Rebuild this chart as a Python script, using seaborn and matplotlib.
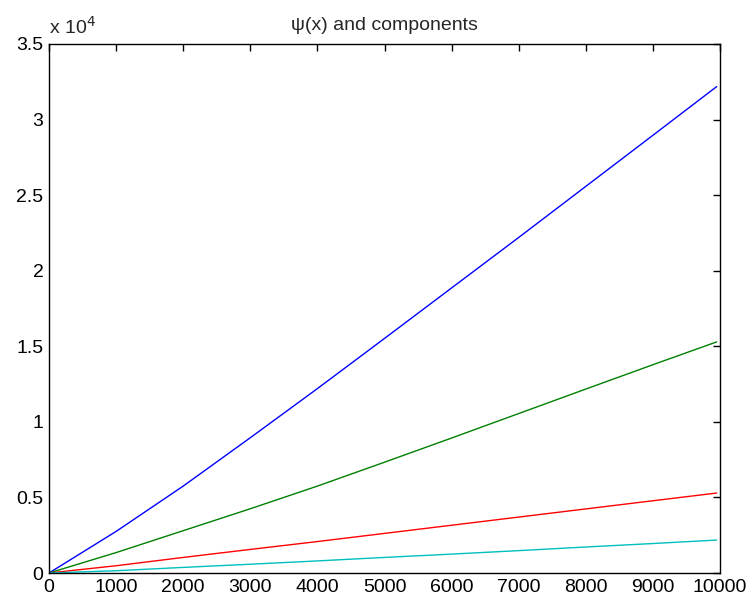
import numpy as np
import pandas as pd
import matplotlib
matplotlib.use("Agg")
import matplotlib.pyplot as plt
from matplotlib.ticker import FuncFormatter
import seaborn as sns

x_vals = [0, 1000, 2000, 3000, 4000, 5000, 6000, 7000, 8000, 9000, 9950]
psi_total = [0, 2750, 5750, 8950, 12200, 15520, 18860, 22200, 25580, 28960, 32180]
comp_green = [0, 1350, 2800, 4250, 5750, 7330, 8930, 10550, 12170, 13780, 15290]
comp_red = [0, 480, 1030, 1560, 2080, 2620, 3160, 3700, 4240, 4780, 5290]
comp_cyan = [0, 150, 370, 580, 800, 1030, 1250, 1480, 1720, 1950, 2180]

series_names = ["psi", "green", "red", "cyan"]
series_colors = ["#0000ff", "#008000", "#ff0000", "#00bfbf"]
x_ticks = [0, 1000, 2000, 3000, 4000, 5000, 6000, 7000, 8000, 9000, 10000]
y_ticks = [0, 5000, 10000, 15000, 20000, 25000, 30000, 35000]
title_text = "\u03c8(x) and components"

frames = []
for name, vals in zip(series_names, [psi_total, comp_green, comp_red, comp_cyan]):
    frames.append(pd.DataFrame({"x": x_vals, "y": vals, "series": name}))
df = pd.concat(frames, ignore_index=True)

sns.set_style("white")
plt.rcParams["font.family"] = ["Liberation Sans", "DejaVu Sans"]

fig = plt.figure(figsize=(7.48, 6.01), dpi=100)
ax = fig.add_axes([49 / 748, 28 / 601, 671 / 748, 529 / 601])

sns.lineplot(data=df, x="x", y="y", hue="series", hue_order=series_names,
             palette=series_colors, linewidth=1.0, legend=False, ax=ax)

ax.set_xlim(0, 10000)
ax.set_ylim(0, 35000)
ax.set_xticks(x_ticks)
ax.set_yticks(y_ticks)
ax.yaxis.set_major_formatter(FuncFormatter(lambda v, p: f"{v / 1e4:g}"))
ax.tick_params(direction="in", length=5, width=1, top=True, right=True,
               labelsize=14, colors="black", pad=4)
for s in ax.spines.values():
    s.set_visible(True)
    s.set_color("black")
    s.set_linewidth(1)
ax.set_xlabel("")
ax.set_ylabel("")
ax.set_title(title_text, fontsize=14, pad=10)
ax.text(0.0, 1.012, "x 10$^4$", transform=ax.transAxes, fontsize=14,
        ha="left", va="bottom")

fig.savefig("out.png", dpi=100)
